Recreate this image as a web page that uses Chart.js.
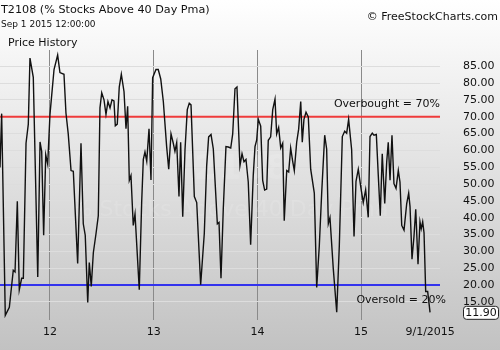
<!DOCTYPE html>
<html><head><meta charset="utf-8">
<script src="https://cdn.jsdelivr.net/npm/chart.js@4.4.0/dist/chart.umd.min.js"></script>
<style>
html,body{margin:0;padding:0;}
body{width:500px;height:350px;overflow:hidden;background:linear-gradient(to bottom,#ffffff 0%,#f4f4f4 18%,#c2c2c2 100%);}
canvas{display:block;}
</style></head><body>
<canvas id="c" width="500" height="350"></canvas>
<script>
// Decimal-year timestamps (weekly readings) and T2108 values
const times = [
2011.518,2011.534,2011.569,2011.608,2011.646,2011.663,2011.685,2011.704,2011.727,2011.743,
2011.769,2011.791,2011.807,2011.839,2011.882,2011.904,2011.920,2011.939,2011.959,2011.978,
2012.000,2012.039,2012.074,2012.096,2012.135,2012.154,2012.176,2012.203,2012.225,2012.267,
2012.299,2012.321,2012.340,2012.364,2012.379,2012.398,2012.418,2012.444,2012.466,2012.482,
2012.499,2012.521,2012.540,2012.559,2012.579,2012.598,2012.617,2012.630,2012.649,2012.668,
2012.688,2012.714,2012.733,2012.749,2012.765,2012.781,2012.803,2012.820,2012.861,2012.884,
2012.900,2012.916,2012.933,2012.955,2012.974,2012.990,2013.022,2013.044,2013.068,2013.093,
2013.125,2013.145,2013.167,2013.189,2013.205,2013.222,2013.244,2013.260,2013.280,2013.302,
2013.324,2013.343,2013.360,2013.392,2013.415,2013.453,2013.488,2013.511,2013.530,2013.553,
2013.575,2013.614,2013.630,2013.649,2013.671,2013.697,2013.719,2013.743,2013.762,2013.784,
2013.803,2013.832,2013.852,2013.871,2013.890,2013.912,2013.935,2013.960,2013.977,2013.993,
2014.009,2014.032,2014.051,2014.070,2014.090,2014.105,2014.128,2014.148,2014.170,2014.186,
2014.205,2014.225,2014.244,2014.259,2014.283,2014.302,2014.321,2014.340,2014.356,2014.379,
2014.398,2014.418,2014.433,2014.449,2014.469,2014.491,2014.514,2014.549,2014.572,2014.597,
2014.620,2014.649,2014.668,2014.684,2014.700,2014.732,2014.765,2014.790,2014.819,2014.842,
2014.861,2014.880,2014.909,2014.932,2014.951,2014.973,2014.999,2015.021,2015.044,2015.069,
2015.086,2015.108,2015.124,2015.147,2015.166,2015.185,2015.204,2015.228,2015.247,2015.262,
2015.279,2015.298,2015.317,2015.337,2015.359,2015.375,2015.392,2015.414,2015.440,2015.459,
2015.472,2015.491,2015.510,2015.527,2015.549,2015.568,2015.580,2015.594,2015.607,2015.623,
2015.642,2015.665
];
const values = [
54.9,70.9,11.0,13.4,24.4,23.9,44.9,18.6,22.0,22.0,
62.1,67.8,87.4,81.7,22.4,62.5,59.7,34.8,58.7,55.9,
70.7,84.0,88.3,83.1,82.6,71.1,64.9,54.0,53.8,26.4,
62.1,38.2,34.8,14.8,26.7,19.6,29.6,35.3,40.6,72.6,
77.1,75.0,70.7,74.5,72.6,75.0,74.7,67.3,67.8,78.8,
82.6,77.4,66.4,73.1,51.1,52.5,37.7,41.1,18.6,44.4,
57.3,59.5,56.8,66.4,51.2,81.6,84.0,84.0,81.2,74.5,
61.1,54.4,64.9,62.1,59.7,62.3,46.3,62.4,40.3,60.2,
72.1,74.0,73.5,46.3,44.5,20.1,35.3,55.4,64.0,64.7,
60.4,38.2,38.6,22.0,42.5,61.1,61.0,60.7,64.9,78.3,
78.8,55.4,59.0,56.6,57.3,50.6,32.0,52.5,61.1,63.0,
69.2,67.2,51.1,48.2,48.5,63.0,64.0,72.1,75.2,64.9,
66.8,60.7,62.1,39.1,54.0,53.6,60.7,56.8,54.0,62.4,
66.3,74.5,62.4,69.2,71.3,69.9,54.4,47.3,19.3,31.6,
47.3,64.5,60.4,38.2,40.0,24.8,11.9,31.6,64.1,65.7,
65.1,69.2,60.2,34.4,50.8,54.4,48.7,44.5,48.3,40.1,
64.1,65.1,64.5,64.7,52.5,40.6,59.0,44.2,56.5,62.4,
51.1,64.5,50.1,48.7,54.0,50.6,37.7,36.3,44.2,47.3,
43.3,27.7,34.4,42.5,26.2,38.8,36.7,38.8,35.5,18.1,
18.1,11.9
];
const xTickValues = [2012, 2013, 2014, 2015, 2015.666];
const xTickLabels = ['12', '13', '14', '15', '9/1/2015'];
const yTickValues = [15,20,25,30,35,40,45,50,55,60,65,70,75,80,85];
const overbought = 70;
const oversold = 20;
const lastValue = 11.90;
const xMin = 2011.518, xMax = 2015.761, yMin = 9.5, yMax = 89.8;

const titleText = 'T2108 (% Stocks Above 40 Day Pma)';
const dateText = 'Sep 1 2015 12:00:00';
const paneText = 'Price History';
const copyText = '\u00A9 FreeStockCharts.com';
const obText = 'Overbought = 70%';
const osText = 'Oversold = 20%';

const FONT = '"DejaVu Sans", sans-serif';

const textPlugin = {
  id: 'texts',
  beforeDatasetsDraw(chart) {
    const {ctx} = chart;
    ctx.save();
    ctx.fillStyle = 'rgba(255,255,255,0.12)';
    ctx.textAlign = 'center';
    ctx.textBaseline = 'middle';
    ctx.font = 'bold 34px ' + FONT;
    ctx.fillText('T2108', 230, 170);
    ctx.font = '22px ' + FONT;
    ctx.fillText('% Stocks Above 40 Day Pma', 230, 210);
    ctx.restore();
  },
  afterDraw(chart) {
    const {ctx, chartArea, scales: {y}} = chart;
    ctx.save();
    ctx.fillStyle = '#111';
    ctx.textBaseline = 'middle';
    ctx.textAlign = 'left';
    ctx.font = '11.2px ' + FONT;
    ctx.fillText(titleText, 1, 10);
    ctx.font = '9px ' + FONT;
    ctx.fillText(dateText, 1, 25);
    ctx.font = '11px ' + FONT;
    ctx.fillText(paneText, 8, 43);
    ctx.textAlign = 'right';
    ctx.font = '11px ' + FONT;
    ctx.fillText(copyText, 498, 17);
    ctx.font = '11px ' + FONT;
    ctx.fillText(obText, chartArea.right, y.getPixelForValue(overbought) - 13);
    ctx.fillText(osText, chartArea.right + 6, y.getPixelForValue(oversold) + 15);
    // last value box
    const py = y.getPixelForValue(lastValue);
    const bx = 463, bw = 36, bh = 13, by = py - bh / 2;
    ctx.beginPath();
    ctx.roundRect(bx + 0.5, by + 0.5, bw - 1, bh, 3);
    ctx.fillStyle = '#ffffff';
    ctx.fill();
    ctx.strokeStyle = '#222';
    ctx.lineWidth = 1;
    ctx.stroke();
    ctx.fillStyle = '#111';
    ctx.textAlign = 'center';
    ctx.font = '11px ' + FONT;
    ctx.fillText(lastValue.toFixed(2), bx + bw / 2, py + 1);
    ctx.restore();
  }
};

const points = times.map((t, i) => ({x: t, y: values[i]}));

new Chart(document.getElementById('c'), {
  type: 'line',
  data: {
    datasets: [
      {data: points, borderColor: '#111', borderWidth: 1.4, pointRadius: 0, tension: 0, fill: false},
      {data: [{x: xMin, y: overbought}, {x: xMax, y: overbought}], borderColor: '#ef3b3b', borderWidth: 2, pointRadius: 0},
      {data: [{x: xMin, y: oversold}, {x: xMax, y: oversold}], borderColor: '#3333ee', borderWidth: 2, pointRadius: 0}
    ]
  },
  options: {
    responsive: false,
    animation: false,
    events: [],
    layout: {padding: {top: 50, left: 0, right: 0, bottom: 0}},
    plugins: {legend: {display: false}, tooltip: {enabled: false}},
    scales: {
      x: {
        type: 'linear', min: xMin, max: xMax,
        afterBuildTicks: (s) => { s.ticks = xTickValues.map(v => ({value: v})); },
        afterFit: (s) => { s.height = 20; },
        ticks: {
          callback: (v, i) => xTickLabels[i],
          autoSkip: false, maxRotation: 0, padding: 5,
          color: '#111', font: {family: FONT, size: 11}
        },
        grid: {
          drawTicks: false,
          color: (c) => (c.tick && c.tick.value > 2015.5) ? 'rgba(0,0,0,0)' : '#8a8a8a',
          lineWidth: 1
        },
        border: {display: false}
      },
      y: {
        position: 'right', min: yMin, max: yMax,
        afterBuildTicks: (s) => { s.ticks = yTickValues.map(v => ({value: v})); },
        afterFit: (s) => { s.width = 60; },
        ticks: {
          callback: (v) => Number(v).toFixed(2),
          padding: 23, color: '#111', font: {family: FONT, size: 11}
        },
        grid: {drawTicks: false, color: '#dddddd', lineWidth: 1},
        border: {display: false}
      }
    }
  },
  plugins: [textPlugin]
});
</script>
</body></html>
